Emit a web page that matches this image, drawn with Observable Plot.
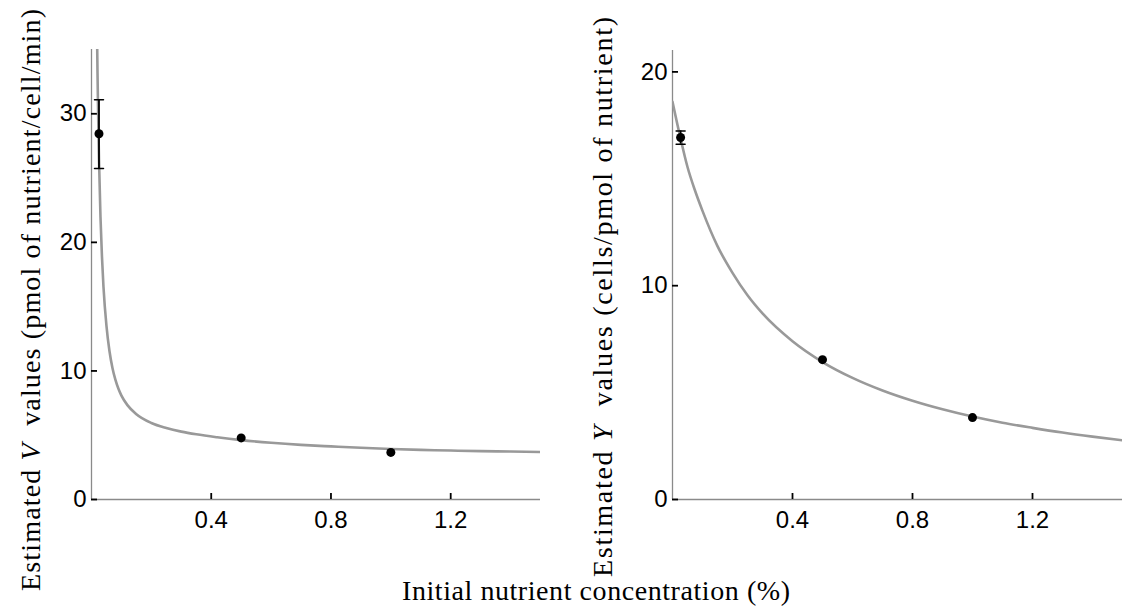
<!DOCTYPE html>
<html><head><meta charset="utf-8">
<script src="https://cdn.jsdelivr.net/npm/d3@7"></script>
<script src="https://cdn.jsdelivr.net/npm/@observablehq/plot@0.6"></script>
<style>
body{margin:0;background:#fff}
#wrap{position:relative;width:1129px;height:607px;overflow:hidden;background:#fff}
#wrap svg{position:absolute;top:0}
</style></head><body><div id="wrap"></div>
<script>
// tick values
const xTicks = [0.4, 0.8, 1.2];
const vTicks = [0, 10, 20, 30];
const yTicks = [0, 10, 20];

// Left panel: estimated V values (points + error bar)
const vX = [0.025, 0.5, 1.0];
const vMean = [28.45, 4.79, 3.66];
const vLow = [25.75, null, null];
const vHigh = [31.1, null, null];

// Left panel fitted curve
const vCurveX = [0.018, 0.020, 0.0225, 0.025, 0.030, 0.035, 0.040, 0.050, 0.060, 0.070, 0.080, 0.090, 0.100, 0.120, 0.150, 0.200, 0.250, 0.300, 0.350, 0.420, 0.500, 0.600, 0.700, 0.800, 0.900, 1.000, 1.100, 1.200, 1.300, 1.400, 1.500];
const vCurveY = [37.2, 33.3, 29.5, 26.5, 21.97, 18.87, 16.55, 13.5, 11.55, 10.23, 9.3, 8.61, 8.08, 7.34, 6.63, 5.95, 5.56, 5.28, 5.07, 4.84, 4.62, 4.41, 4.25, 4.13, 4.02, 3.93, 3.86, 3.81, 3.76, 3.73, 3.69];

// Right panel: estimated Y values
const yX = [0.027, 0.5, 1.0];
const yMean = [16.93, 6.54, 3.83];
const yLow = [16.62, null, null];
const yHigh = [17.24, null, null];

// Right panel fitted curve
const yCurveX = [0.00, 0.025, 0.05, 0.075, 0.10, 0.15, 0.20, 0.25, 0.30, 0.40, 0.50, 0.60, 0.70, 0.80, 0.90, 1.00, 1.10, 1.20, 1.30, 1.40, 1.50];
const yCurveY = [18.6, 17.0, 15.55, 14.45, 13.5, 11.85, 10.6, 9.55, 8.7, 7.4, 6.43, 5.69, 5.10, 4.62, 4.22, 3.88, 3.59, 3.35, 3.13, 2.94, 2.77];

const capShape = {draw(ctx, l) { ctx.moveTo(-l / 2, 0); ctx.lineTo(l / 2, 0); }};
const xDomain = [0, 1.5];

function panel({width, marginLeft, marginRight, marginTop, yDomain, yTickVals, curveX, curveY, px, py, lo, hi}) {
  const height = 560, marginBottom = 61, tickPx = 6;
  const frameW = width - marginLeft - marginRight;
  const frameH = height - marginTop - marginBottom;
  // inward tick length expressed in each scale's units
  const tx = tickPx * (xDomain[1] - xDomain[0]) / frameW;
  const ty = tickPx * (yDomain[1] - yDomain[0]) / frameH;
  const curve = curveX.map((x, i) => ({x, y: curveY[i]}));
  const pts = px.map((x, i) => ({x, y: py[i]}));
  const bars = px.map((x, i) => ({x, lo: lo[i], hi: hi[i]})).filter(d => d.lo != null);
  const caps = bars.flatMap(d => [{x: d.x, y: d.lo}, {x: d.x, y: d.hi}]);
  return Plot.plot({
    width, height, marginLeft, marginRight, marginTop, marginBottom,
    style: {fontFamily: "'Liberation Sans', Arial, sans-serif", fontSize: "24px", color: "#000", background: "transparent", overflow: "visible"},
    x: {domain: xDomain},
    y: {domain: yDomain},
    marks: [
      Plot.ruleX([0], {stroke: "#8a8a8a", strokeWidth: 1.3}),
      Plot.ruleY([0], {stroke: "#8a8a8a", strokeWidth: 1.3}),
      Plot.axisX(xTicks, {tickSize: 0, tickPadding: 11, tickFormat: d => d.toFixed(1), label: null, fill: "#000"}),
      Plot.axisY(yTickVals, {tickSize: 0, tickPadding: 5, label: null, fill: "#000"}),
      Plot.ruleX(xTicks, {x: d => d, y1: yDomain[0], y2: yDomain[0] + ty, stroke: "#000", strokeWidth: 1.8}),
      Plot.ruleY(yTickVals, {y: d => d, x1: xDomain[0], x2: xDomain[0] + tx, stroke: "#000", strokeWidth: 1.8}),
      Plot.line(curve, {x: "x", y: "y", stroke: "#999", strokeWidth: 2.6, curve: "monotone-x", clip: true}),
      Plot.ruleX(bars, {x: "x", y1: "lo", y2: "hi", stroke: "#000", strokeWidth: 1.8}),
      Plot.vector(caps, {x: "x", y: "y", length: 9, shape: capShape, anchor: "start", stroke: "#000", strokeWidth: 1.5}),
      Plot.dot(pts, {x: "x", y: "y", r: 4.5, fill: "#000"})
    ]
  });
}

const wrap = document.getElementById("wrap");
const left = panel({width: 560, marginLeft: 91, marginRight: 20, marginTop: 49, yDomain: [0, 35], yTickVals: vTicks,
  curveX: vCurveX, curveY: vCurveY, px: vX, py: vMean, lo: vLow, hi: vHigh});
left.style.left = "0px";
const right = panel({width: 569, marginLeft: 112, marginRight: 7, marginTop: 50, yDomain: [0, 21], yTickVals: yTicks,
  curveX: yCurveX, curveY: yCurveY, px: yX, py: yMean, lo: yLow, hi: yHigh});
right.style.left = "560px";
wrap.appendChild(left);
wrap.appendChild(right);

// Axis titles
const ns = "http://www.w3.org/2000/svg";
const ov = document.createElementNS(ns, "svg");
ov.setAttribute("width", 1129); ov.setAttribute("height", 607);
ov.style.left = "0px"; ov.style.pointerEvents = "none";
ov.innerHTML = `
<g font-family="'Liberation Serif', 'Times New Roman', serif" font-size="28" fill="#000">
  <text x="596" y="590" text-anchor="middle" dominant-baseline="central" textLength="388" lengthAdjust="spacing">Initial nutrient concentration (%)</text>
  <text transform="translate(30,300) rotate(-90)" text-anchor="middle" dominant-baseline="central" textLength="582" lengthAdjust="spacing">Estimated <tspan font-style="italic">V</tspan>&#160; values (pmol of nutrient/cell/min)</text>
  <text transform="translate(602,297) rotate(-90)" text-anchor="middle" dominant-baseline="central" textLength="560" lengthAdjust="spacing">Estimated <tspan font-style="italic">Y</tspan>&#160; values (cells/pmol of nutrient)</text>
</g>`;
wrap.appendChild(ov);
</script></body></html>
